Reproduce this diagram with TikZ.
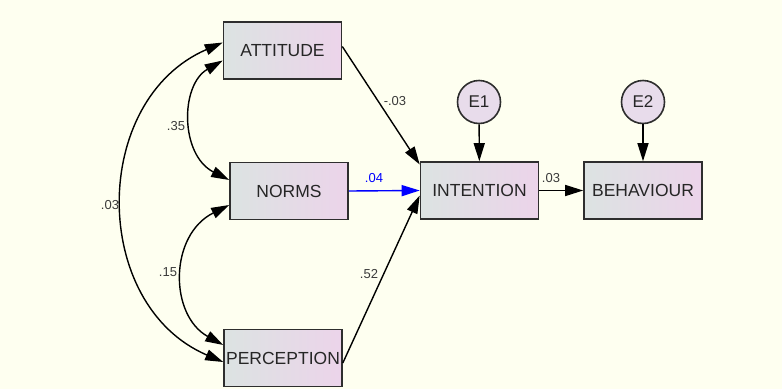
\documentclass[tikz,border=0pt]{standalone}
\usepackage{fontspec}
\setmainfont{Liberation Sans}
\usetikzlibrary{arrows.meta,calc}
\definecolor{bgcream}{HTML}{FEFFF0}
\definecolor{boxleft}{HTML}{DCE3E2}
\definecolor{boxright}{HTML}{ECD4EA}
\definecolor{errfill}{HTML}{E8DCEB}
\definecolor{edgegray}{HTML}{2E2E2E}
\definecolor{labgray}{HTML}{3A3A3A}
\begin{document}
\begin{tikzpicture}[x=1pt,y=-1pt,
  obs/.style={draw=edgegray, line width=1.6pt, left color=boxleft, right color=boxright,
    minimum width=118pt, minimum height=57pt, inner sep=0pt,
    font=\fontsize{17.5}{19}\selectfont, text=black!85},
  err/.style={circle, draw=edgegray, line width=1.6pt, fill=errfill,
    minimum size=43pt, inner sep=0pt, font=\fontsize{17}{19}\selectfont, text=black!85},
  path/.style={line width=1.4pt, draw=black, -{Triangle[length=18pt,width=11pt]}},
  cov/.style={line width=1.4pt, draw=black, {Triangle[length=18pt,width=11pt]}-{Triangle[length=18pt,width=11pt]}},
  lab/.style={font=\fontsize{13}{15}\selectfont, text=labgray, inner sep=0pt}]
\useasboundingbox[fill=bgcream] (0,0) rectangle (782,389);

% observed variables
\node[obs] (att)  at (282.5,50.5) {ATTITUDE};
\node[obs] (nor)  at (289,191)    {NORMS};
\node[obs] (per)  at (283,358)    {PERCEPTION};
\node[obs] (int)  at (479.5,190.5) {INTENTION};
\node[obs] (beh)  at (643,190.5)  {BEHAVIOUR};

% error terms
\node[err] (e1) at (479,102) {E1};
\node[err] (e2) at (643,102) {E2};

% residual paths
\draw[path] (e1) -- (int);
\draw[path] (e2) -- (beh);

% regression paths
\draw[path] ([yshift=4pt]att.east) -- ([yshift=26pt]int.west);
\draw[path, draw=blue, -{Triangle[length=18pt,width=11pt,fill=blue]}] (nor.east) -- (int.west);
\draw[path] ([yshift=-5pt]per.east) -- ([yshift=-5pt]int.west);
\draw[path] (int.east) -- (beh.west);

% covariances
\draw[cov] ([yshift=-10pt]att.west) .. controls (180,85) and (180,155) .. ([yshift=11pt]nor.west);
\draw[cov] ([yshift=-14pt]nor.west) .. controls (169,235) and (169,315) .. ([yshift=13pt]per.west);
\draw[cov] ([yshift=8pt]att.west) .. controls (90,100) and (90,305) .. ([yshift=-4pt]per.west);

% estimates
\node[lab] (l1) at (395,101) {-.03};
\node[lab, text=blue] (l2) at (374,178) {.04};
\node[lab] (l3) at (369,274) {.52};
\node[lab] (l4) at (551,178) {.03};
\node[lab] (l5) at (176,126) {.35};
\node[lab] (l6) at (168,272) {.15};
\node[lab] (l7) at (110,205) {.03};
\end{tikzpicture}
\end{document}
